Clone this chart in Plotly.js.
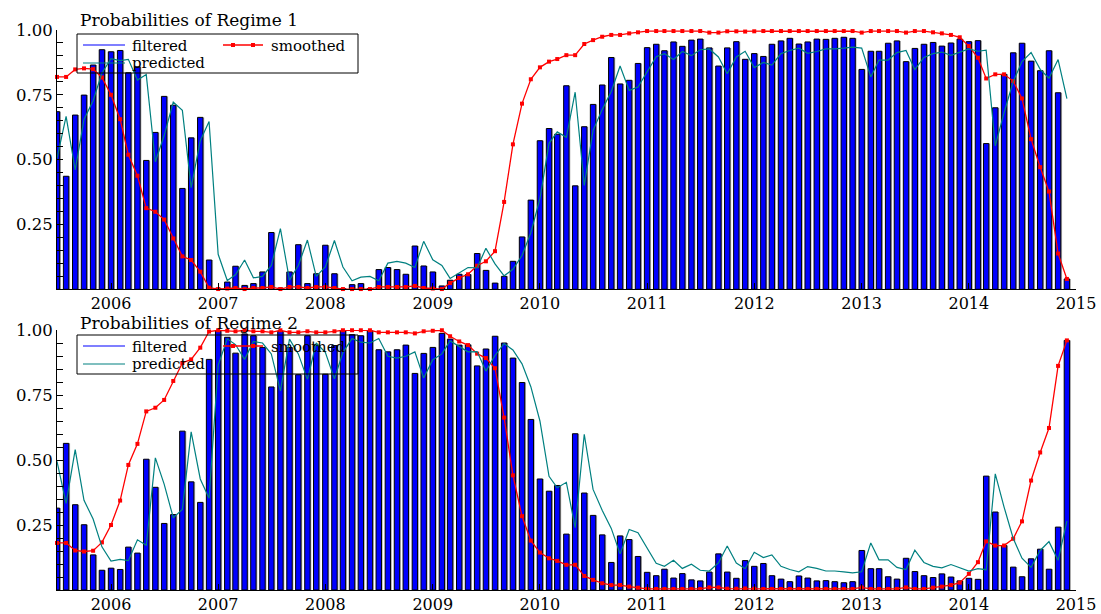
<!DOCTYPE html>
<html><head><meta charset="utf-8">
<script src="https://cdn.plot.ly/plotly-3.0.1.min.js"></script>
<style>html,body{margin:0;padding:0;background:#fff}#chart{width:1101px;height:614px}</style>
</head><body><div id="chart"></div>
<script>
// ---- data (monthly, 2005-07 .. 2014-12) ----
const START_YEAR = 2005, START_MONTH = 7;
const YEAR_TICK_START = '2006-01-01';
const X_RANGE = ['2005-07-01', '2015-01-01'];

const filtered1 = [0.685,0.436,0.672,0.749,0.865,0.924,0.916,0.921,0.835,0.858,
0.497,0.605,0.744,0.710,0.389,0.584,0.663,0.113,0.004,0.028,
0.089,0.015,0.022,0.067,0.219,0.005,0.067,0.172,0.022,0.060,
0.170,0.060,0.003,0.018,0.022,0.003,0.076,0.084,0.076,0.058,
0.167,0.090,0.067,0.013,0.035,0.058,0.057,0.138,0.073,0.024,
0.050,0.108,0.202,0.344,0.573,0.620,0.598,0.785,0.399,0.627,
0.713,0.788,0.894,0.792,0.806,0.871,0.932,0.945,0.920,0.954,
0.937,0.961,0.965,0.931,0.861,0.931,0.955,0.887,0.909,0.898,
0.945,0.958,0.968,0.946,0.954,0.965,0.964,0.968,0.972,0.968,
0.848,0.918,0.918,0.949,0.958,0.878,0.929,0.945,0.952,0.938,
0.950,0.965,0.955,0.959,0.562,0.700,0.829,0.912,0.949,0.880,
0.843,0.920,0.758,0.040];

const predicted1 = [0.505,0.667,0.46,0.655,0.727,0.834,0.889,0.882,0.887,0.807,
0.828,0.492,0.593,0.722,0.690,0.392,0.573,0.647,0.135,0.034,
0.056,0.113,0.044,0.050,0.092,0.234,0.035,0.092,0.190,0.050,
0.086,0.188,0.086,0.033,0.047,0.050,0.033,0.101,0.108,0.101,
0.084,0.185,0.114,0.092,0.042,0.063,0.084,0.083,0.158,0.098,
0.052,0.077,0.130,0.218,0.350,0.563,0.607,0.586,0.760,0.401,
0.613,0.693,0.763,0.861,0.767,0.780,0.840,0.897,0.909,0.886,
0.917,0.901,0.924,0.927,0.896,0.831,0.896,0.918,0.855,0.875,
0.865,0.909,0.921,0.930,0.910,0.917,0.927,0.927,0.930,0.934,
0.930,0.819,0.884,0.884,0.913,0.921,0.847,0.894,0.909,0.915,
0.902,0.914,0.927,0.918,0.922,0.553,0.681,0.801,0.878,0.913,
0.848,0.814,0.886,0.735];

const smoothed1 = [0.819,0.819,0.848,0.852,0.849,0.817,0.750,0.656,0.519,0.438,
0.313,0.299,0.269,0.196,0.127,0.113,0.068,0.006,0.001,0.003,
0.005,0.001,0.005,0.005,0.009,0.001,0.009,0.009,0.005,0.009,
0.009,0.005,0.001,0.001,0.001,0.001,0.009,0.009,0.009,0.009,
0.013,0.005,0.003,0.001,0.024,0.044,0.058,0.091,0.108,0.147,
0.337,0.559,0.716,0.810,0.856,0.878,0.888,0.903,0.903,0.946,
0.961,0.974,0.981,0.981,0.987,0.991,0.996,0.996,0.996,0.996,
0.996,0.996,0.996,0.990,0.990,0.995,0.995,0.994,0.995,0.996,
0.996,0.996,0.996,0.996,0.996,0.996,0.996,0.996,0.996,0.996,
0.990,0.996,0.996,0.996,0.996,0.990,0.996,0.996,0.991,0.987,
0.981,0.972,0.938,0.893,0.813,0.829,0.829,0.803,0.736,0.579,
0.471,0.377,0.138,0.040];

const filtered2 = [0.315,0.564,0.328,0.251,0.135,0.076,0.084,0.079,0.165,0.142,
0.503,0.395,0.256,0.290,0.611,0.416,0.337,0.887,0.996,0.972,
0.911,0.985,0.978,0.933,0.781,0.995,0.933,0.828,0.978,0.940,
0.830,0.940,0.997,0.982,0.978,0.997,0.924,0.916,0.924,0.942,
0.833,0.910,0.933,0.987,0.965,0.942,0.943,0.862,0.927,0.976,
0.950,0.892,0.798,0.656,0.427,0.380,0.402,0.215,0.601,0.373,
0.287,0.212,0.106,0.208,0.194,0.129,0.068,0.055,0.080,0.046,
0.063,0.039,0.035,0.069,0.139,0.069,0.045,0.113,0.091,0.102,
0.055,0.042,0.032,0.054,0.046,0.035,0.036,0.032,0.028,0.032,
0.152,0.082,0.082,0.051,0.042,0.122,0.071,0.055,0.048,0.062,
0.050,0.035,0.045,0.041,0.438,0.300,0.171,0.088,0.051,0.120,
0.157,0.080,0.242,0.960];

const predicted2 = [0.495,0.333,0.54,0.345,0.273,0.166,0.111,0.118,0.113,0.193,
0.172,0.508,0.407,0.278,0.310,0.608,0.427,0.353,0.865,0.966,
0.944,0.887,0.956,0.950,0.908,0.766,0.965,0.908,0.810,0.950,
0.914,0.812,0.914,0.967,0.953,0.950,0.967,0.899,0.892,0.899,
0.916,0.815,0.886,0.908,0.958,0.937,0.916,0.917,0.842,0.902,
0.948,0.923,0.870,0.782,0.650,0.437,0.393,0.414,0.240,0.599,
0.387,0.307,0.237,0.139,0.233,0.220,0.160,0.103,0.091,0.114,
0.083,0.099,0.076,0.073,0.104,0.169,0.104,0.082,0.145,0.125,
0.135,0.091,0.079,0.070,0.090,0.083,0.073,0.073,0.070,0.066,
0.070,0.181,0.116,0.116,0.087,0.079,0.153,0.106,0.091,0.085,
0.098,0.086,0.073,0.082,0.078,0.447,0.319,0.199,0.122,0.087,
0.152,0.186,0.114,0.265];

const smoothed2 = [0.181,0.181,0.152,0.148,0.151,0.183,0.250,0.344,0.481,0.562,
0.687,0.701,0.731,0.804,0.873,0.887,0.932,0.994,0.999,0.997,
0.995,0.999,0.995,0.995,0.991,0.999,0.991,0.991,0.995,0.991,
0.991,0.995,0.999,0.999,0.999,0.999,0.991,0.991,0.991,0.991,
0.987,0.995,0.997,0.999,0.976,0.956,0.942,0.909,0.892,0.853,
0.663,0.441,0.284,0.190,0.144,0.122,0.112,0.097,0.097,0.054,
0.039,0.026,0.019,0.019,0.013,0.009,0.004,0.004,0.004,0.004,
0.004,0.004,0.004,0.010,0.010,0.005,0.005,0.006,0.005,0.004,
0.004,0.004,0.004,0.004,0.004,0.004,0.004,0.004,0.004,0.004,
0.010,0.004,0.004,0.004,0.004,0.010,0.004,0.004,0.009,0.013,
0.019,0.028,0.062,0.107,0.187,0.171,0.171,0.197,0.264,0.421,
0.529,0.623,0.862,0.960];

const Y_TICKVALS = [0,0.05,0.10,0.15,0.20,0.25,0.30,0.35,0.40,0.45,0.50,0.55,0.60,0.65,0.70,0.75,0.80,0.85,0.90,0.95,1.00];
const Y_TICKTEXT = ['','','','','','0.25','','','','','0.50','','','','','0.75','','','','','1.00'];
const TITLES = ['Probabilities of Regime 1', 'Probabilities of Regime 2'];
const LEGEND_NAMES = ['filtered', 'smoothed', 'predicted'];

// month dates for the x categories
const dates = [];
for (let i = 0; i < filtered1.length; i++) {
  const m = START_MONTH - 1 + i;
  const y = START_YEAR + Math.floor(m / 12);
  dates.push(y + '-' + String(m % 12 + 1).padStart(2, '0') + '-01');
}

// ---- geometry / style ----
const W = 1101, H = 614, ML = 57, MR = 25, MT = 30, MB = 24;
const PW = W - ML - MR, PH = H - MT - MB;
const X = px => (px - ML) / PW;
const Y = py => (H - MB - py) / PH;
const FONT = 'DejaVu Serif';
const BLUE = '#0000ff', RED = '#ff0000', TEAL = '#008080';
const msPerPx = (Date.parse(X_RANGE[1]) - Date.parse(X_RANGE[0])) / PW;
const barW = 5.4 * msPerPx, shadowShift = 1.3 * msPerPx;

function panelTraces(f, s, p, xa, ya) {
  return [
    {type: 'bar', x: dates, y: f, xaxis: xa, yaxis: ya, width: barW, offset: -barW / 2 + shadowShift,
     marker: {color: '#b8b8b8', line: {width: 0}}, showlegend: false, hoverinfo: 'skip'},
    {type: 'bar', x: dates, y: f, xaxis: xa, yaxis: ya, width: barW, offset: -barW / 2,
     marker: {color: BLUE, line: {color: '#000', width: 1}}, name: LEGEND_NAMES[0], showlegend: false},
    {type: 'scatter', mode: 'lines+markers', x: dates, y: s, xaxis: xa, yaxis: ya,
     line: {color: RED, width: 1.3}, marker: {symbol: 'square', size: 4, color: RED},
     name: LEGEND_NAMES[1], showlegend: false, cliponaxis: false},
    {type: 'scatter', mode: 'lines', x: dates, y: p, xaxis: xa, yaxis: ya,
     line: {color: TEAL, width: 1.2}, name: LEGEND_NAMES[2], showlegend: false}
  ];
}

const data = panelTraces(filtered1, smoothed1, predicted1, 'x', 'y')
  .concat(panelTraces(filtered2, smoothed2, predicted2, 'x2', 'y2'));

function xAxis(anchor, standoff) {
  return {anchor: anchor, domain: [0, 1], type: 'date', range: X_RANGE,
    tick0: YEAR_TICK_START, dtick: 'M12', tickformat: '%Y',
    ticks: 'inside', ticklen: 6, tickcolor: '#000', tickwidth: 1, ticklabelstandoff: standoff,
    showline: true, linecolor: '#000', linewidth: 1, showgrid: false, zeroline: false,
    tickfont: {family: FONT, size: 16, color: '#000'}, fixedrange: true};
}
function yAxis(anchor, dom) {
  return {anchor: anchor, domain: dom, range: [0, 1], tickmode: 'array',
    tickvals: Y_TICKVALS, ticktext: Y_TICKTEXT,
    ticks: 'inside', ticklen: 6, tickcolor: '#000', tickwidth: 1,
    showline: true, linecolor: '#000', linewidth: 1, showgrid: false, zeroline: false,
    tickfont: {family: FONT, size: 16.5, color: '#000'}, fixedrange: true};
}

const shapes = [], annotations = [];
[0, 301].forEach((dy, k) => {
  // title
  annotations.push({xref: 'paper', yref: 'paper', x: X(78), y: Y(k ? 322.5 : 20), xanchor: 'left', yanchor: 'middle',
    text: TITLES[k], showarrow: false, font: {family: FONT, size: 17, color: '#000'}});
  // legend box
  shapes.push({type: 'rect', xref: 'paper', yref: 'paper', x0: X(77), x1: X(358), y0: Y(34 + dy), y1: Y(73 + dy),
    line: {color: '#000', width: 1}, fillcolor: 'rgba(0,0,0,0)', layer: 'above'});
  // filtered sample
  shapes.push({type: 'line', xref: 'paper', yref: 'paper', x0: X(83), x1: X(125), y0: Y(45 + dy), y1: Y(45 + dy),
    line: {color: BLUE, width: 1.2}});
  // smoothed sample
  shapes.push({type: 'line', xref: 'paper', yref: 'paper', x0: X(223), x1: X(263), y0: Y(45 + dy), y1: Y(45 + dy),
    line: {color: RED, width: 1.3}});
  [233, 253].forEach(cx => shapes.push({type: 'rect', xref: 'paper', yref: 'paper',
    x0: X(cx - 2), x1: X(cx + 2), y0: Y(43 + dy), y1: Y(47 + dy), line: {width: 0}, fillcolor: RED}));
  // predicted sample
  shapes.push({type: 'line', xref: 'paper', yref: 'paper', x0: X(83), x1: X(125), y0: Y(63 + dy), y1: Y(63 + dy),
    line: {color: TEAL, width: 1.2}});
  const lf = {family: FONT, size: 15, color: '#000'};
  annotations.push({xref: 'paper', yref: 'paper', x: X(130), y: Y(45.5 + dy), xanchor: 'left', yanchor: 'middle',
    text: LEGEND_NAMES[0], showarrow: false, font: lf});
  annotations.push({xref: 'paper', yref: 'paper', x: X(269), y: Y(45.5 + dy), xanchor: 'left', yanchor: 'middle',
    text: LEGEND_NAMES[1], showarrow: false, font: lf});
  annotations.push({xref: 'paper', yref: 'paper', x: X(130), y: Y(63 + dy), xanchor: 'left', yanchor: 'middle',
    text: LEGEND_NAMES[2], showarrow: false, font: lf});
});

const layout = {
  width: W, height: H, margin: {l: ML, r: MR, t: MT, b: MB, pad: 0},
  paper_bgcolor: '#fff', plot_bgcolor: 'rgba(0,0,0,0)',
  barmode: 'overlay', showlegend: false, hovermode: false,
  font: {family: FONT, color: '#000'},
  xaxis: xAxis('y', -1), yaxis: yAxis('x', [Y(289.3), 1]),
  xaxis2: xAxis('y2', 0), yaxis2: yAxis('x2', [0, Y(330)]),
  shapes: shapes, annotations: annotations
};

Plotly.newPlot('chart', data, layout, {staticPlot: true, displayModeBar: false});
</script>
</body></html>
